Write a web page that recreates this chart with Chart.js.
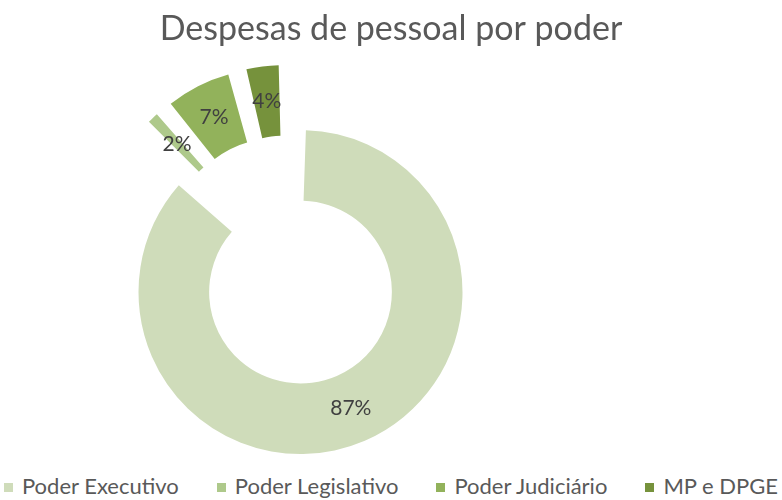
<!DOCTYPE html>
<html lang="pt-BR">
<head>
<meta charset="utf-8">
<title>Despesas de pessoal por poder</title>
<script src="https://cdn.jsdelivr.net/npm/chart.js@4.4.1/dist/chart.umd.min.js"></script>
<style>
  html, body { margin: 0; padding: 0; background: #fff; }
  #box { position: relative; width: 782px; height: 470px; }
  #legenda {
    width: 782px; height: 30px;
    display: flex; justify-content: center; align-items: center; gap: 38px;
    font-family: Lato, sans-serif; font-size: 22px; color: #595959;
  }
  #legenda .q { display: inline-block; width: 9px; height: 9px; margin-right: 9px; vertical-align: 2px; }
</style>
</head>
<body>
<div id="box"><canvas id="graf"></canvas></div>
<div id="legenda"></div>
<script>
const poderes = ['Poder Executivo', 'Poder Legislativo', 'Poder Judiciário', 'MP e DPGE'];
const percentuais = [87, 2, 7, 4];
const cores = ['#CFDCBA', '#AEC98B', '#92B25B', '#76923C'];

const explosao = 34; // quanto cada fatia sai do centro (px)
const total = percentuais.reduce((a, b) => a + b, 0);

// o ArcElement, com offset, desloca offset/4 e ainda aumenta os raios em offset/4 * fix;
// aqui os raios são descontados antes para todas as fatias ficarem do mesmo tamanho
const ajustaRaio = {
  id: 'ajustaRaio',
  afterDatasetUpdate(chart, args) {
    args.meta.data.forEach(arc => {
      const fix = 1 - Math.sin(Math.min(Math.PI, arc.circumference));
      arc.outerRadius -= explosao * fix;
      arc.innerRadius -= explosao * fix;
    });
  }
};

// rótulos de % no meio de cada fatia (já deslocada)
const rotulos = {
  id: 'rotulos',
  afterDatasetsDraw(chart) {
    const ctx = chart.ctx;
    const meta = chart.getDatasetMeta(0);
    const rMeio = (meta.controller.innerRadius + meta.controller.outerRadius) / 2 + explosao;
    ctx.save();
    ctx.font = '21px Lato';
    ctx.fillStyle = '#404040';
    ctx.textAlign = 'center';
    ctx.textBaseline = 'middle';
    meta.data.forEach((arc, i) => {
      const meio = (arc.startAngle + arc.endAngle) / 2;
      ctx.fillText(Math.round(percentuais[i] / total * 100) + '%',
        arc.x + Math.cos(meio) * rMeio, arc.y + Math.sin(meio) * rMeio);
    });
    ctx.restore();
  }
};

// a rosca fica à esquerda do centro da figura
const deslocaCentro = {
  id: 'deslocaCentro',
  afterLayout(chart) {
    chart.chartArea.right -= 208;
    chart.chartArea.width -= 208;
  }
};

const grafico = new Chart(document.getElementById('graf'), {
  type: 'doughnut',
  data: {
    labels: poderes,
    datasets: [{
      data: percentuais,
      backgroundColor: cores,
      borderWidth: 0,
      offset: 4 * explosao,
      hoverOffset: 0
    }]
  },
  options: {
    responsive: true,
    maintainAspectRatio: false,
    animation: false,
    radius: 162,
    cutout: '56.4%',
    plugins: {
      legend: { display: false },
      tooltip: { enabled: false },
      title: {
        display: true,
        text: 'Despesas de pessoal por poder',
        color: '#595959',
        font: { family: 'Lato', size: 34, weight: 'normal' },
        padding: { top: 9, bottom: 2 }
      }
    }
  },
  plugins: [ajustaRaio, rotulos, deslocaCentro]
});

// legenda em html, montada a partir dos mesmos arrays
const leg = document.getElementById('legenda');
poderes.forEach((nome, i) => {
  const item = document.createElement('span');
  item.innerHTML = '<span class="q" style="background:' + cores[i] + '"></span>' + nome;
  leg.appendChild(item);
});
</script>
</body>
</html>
